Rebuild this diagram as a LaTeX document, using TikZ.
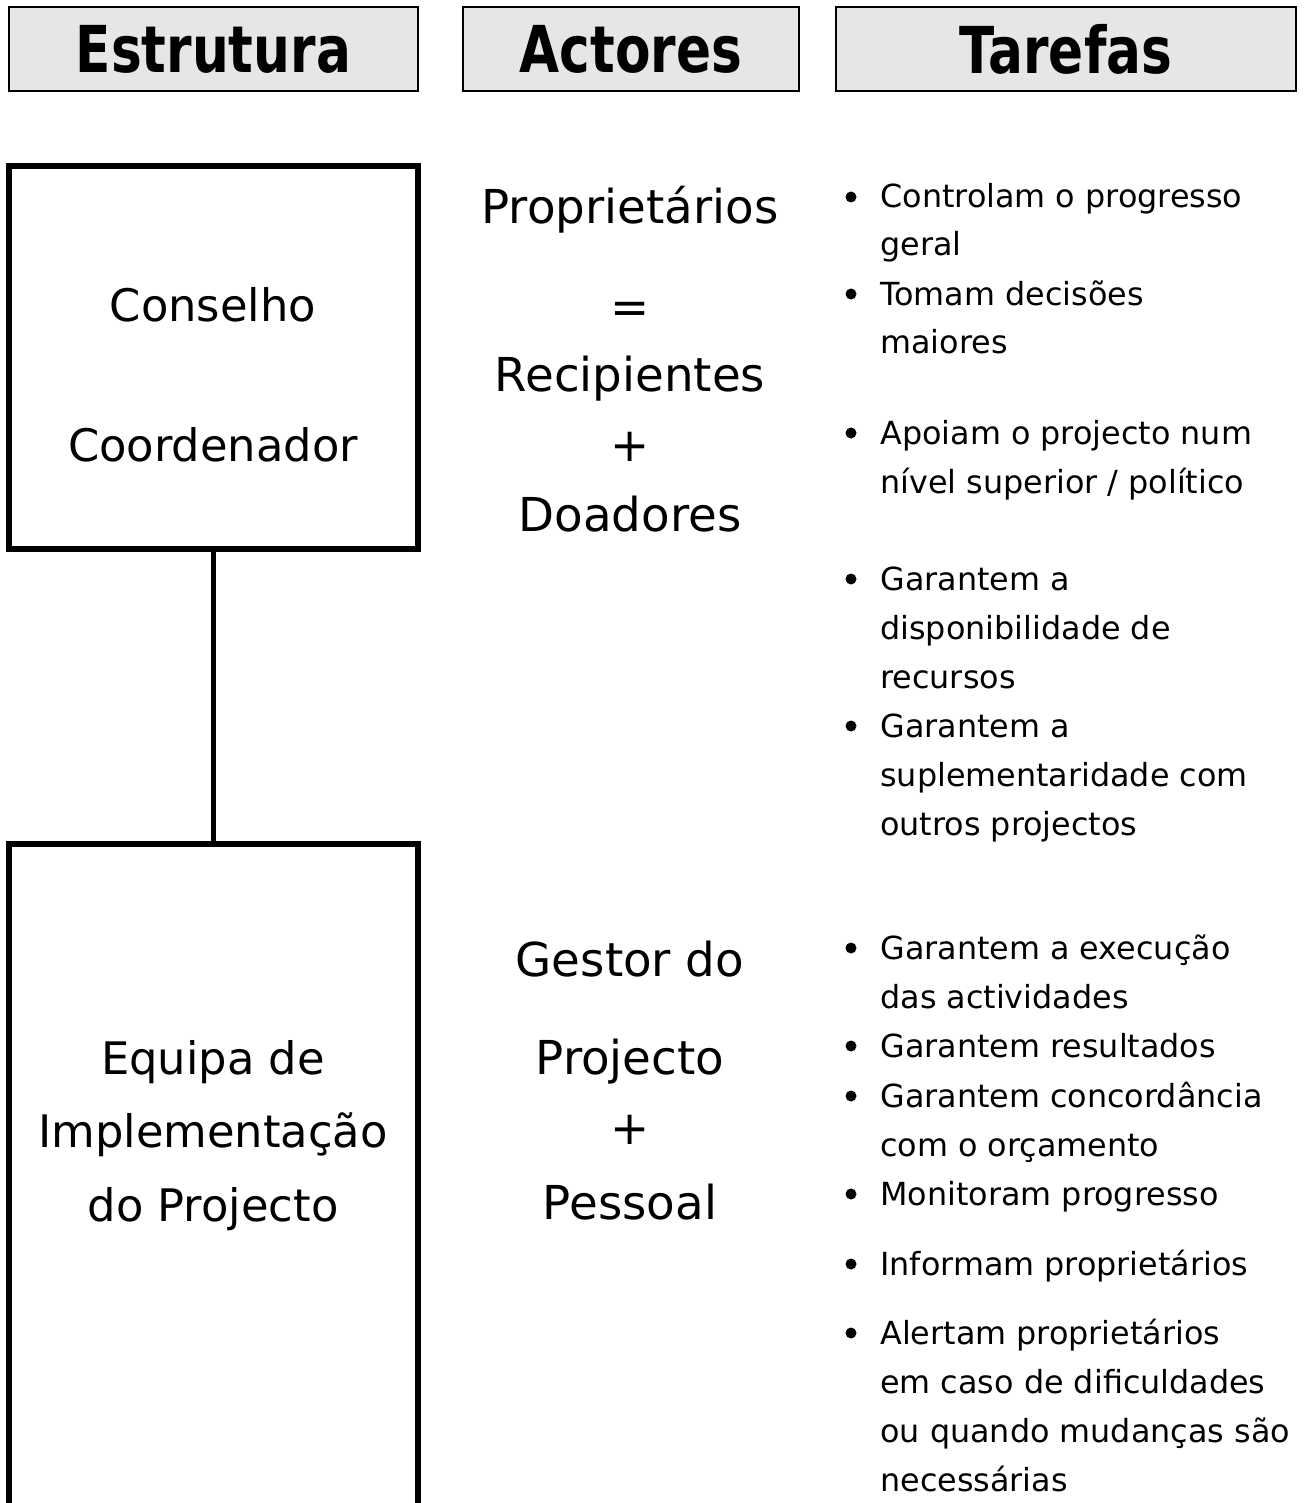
\documentclass[tikz,border=0pt]{standalone}
\usepackage{fontspec}
\setmainfont{DejaVu Sans}
\newfontfamily\headfont{DejaVu Sans}[FakeStretch=0.8]

\definecolor{headgray}{HTML}{E6E6E6}

\tikzset{
  head/.style={draw=black, line width=1.1pt, fill=headgray, minimum height=1.68cm,
    inner sep=0pt, font=\headfont\bfseries\fontsize{36.8}{40}\selectfont},
  level/.style={draw=black, line width=3.2pt, minimum width=8.18cm, inner sep=0pt},
  link/.style={line width=2.9pt},
  actor/.style={align=center, inner sep=0pt, anchor=base, font=\fontsize{26.6}{39.7}\selectfont},
  unit/.style={align=center, inner sep=0pt, anchor=base, font=\fontsize{25.5}{41.7}\selectfont},
  task/.style={align=left, inner sep=0pt, anchor=base west, font=\fontsize{18.1}{27.8}\selectfont},
  dot/.style={fill=black}
}

\begin{document}
\begin{tikzpicture}[x=0.02cm, y=-0.02cm]
	\useasboundingbox (0,0) rectangle (1303,1503);
	% column heads
	\node[head, minimum width=8.18cm] (headStruct) at (213.4,49) {Estrutura};
	\node[head, minimum width=6.72cm] (headActors) at (631,49) {Actores};
	\node[head, minimum width=9.2cm] (headTasks) at (1066,49) {Tarefas};
	% structure (text nodes sit on their last baseline)
	\node[level, minimum height=7.66cm] (board) at (213.5,357.5) {};
	\node[level, minimum height=14.32cm] (team) at (213.5,1202) {};
	\draw[link] (board.south) -- (team.north);
	\node[unit] (boardName) at (213,461) {Conselho\\[37.7pt]Coordenador};
	\node[unit] (teamName) at (213,1221) {Equipa de\\Implementação\\do Projecto};
	% actors
	\node[actor] (owners) at (630,531) {Proprietários\\[17pt]=\\[-1pt]Recipientes\\+\\Doadores};
	\node[actor] (manager) at (630,1219) {Gestor do\\[15.9pt]Projecto\\+\\[2.8pt]Pessoal};
	% tasks
	\node[task] (t1) at (880,256) {Controlam o progresso\\geral};
	\node[task] (t2) at (880,354) {Tomam decisões\\maiores};
	\node[task] (t3) at (880,493) {Apoiam o projecto num\\nível superior / político};
	\node[task] (t4) at (880,688) {Garantem a\\disponibilidade de\\recursos};
	\node[task] (t5) at (880,835) {Garantem a\\suplementaridade com\\outros projectos};
	\node[task] (t6) at (880,1008) {Garantem a execução\\das actividades};
	\node[task] (t7) at (880,1057) {Garantem resultados};
	\node[task] (t8) at (880,1156) {Garantem concordância\\com o orçamento};
	\node[task] (t9) at (880,1205) {Monitoram progresso};
	\node[task] (t10) at (880,1275) {Informam proprietários};
	\node[task] (t11) at (880,1491) {Alertam proprietários\\em caso de dificuldades\\ou quando mudanças são\\necessárias};
	\foreach \y in {197,294,433,579,726,948,1046,1096,1194,1264,1333}
		\fill[dot] (851,\y) circle (5.5);
\end{tikzpicture}
\end{document}
